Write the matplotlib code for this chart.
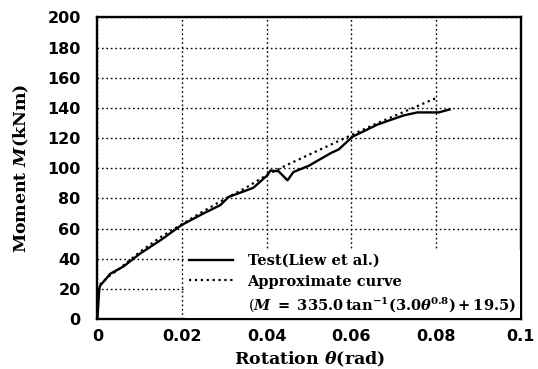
import matplotlib.pyplot as plt
import numpy as np

# test curve (Liew et al.)
theta_test = [0.0, 0.0004, 0.0006, 0.003, 0.0062, 0.0101, 0.015, 0.0199, 0.025,
              0.029, 0.031, 0.0368, 0.040, 0.0409, 0.0428, 0.0449, 0.0463,
              0.0499, 0.0551, 0.057, 0.0603, 0.0662, 0.0723, 0.0756, 0.0806, 0.0832]
M_test = [0.0, 18.0, 22.0, 30.0, 35.0, 43.5, 52.5, 62.4, 70.0,
          75.5, 81.0, 87.0, 95.0, 98.5, 98.0, 92.0, 97.5,
          101.6, 110.0, 112.5, 121.0, 129.0, 135.0, 137.0, 137.0, 139.0]

# approximate curve
theta_apx = [0.0, 0.0005, 0.001, 0.003, 0.005, 0.01, 0.015, 0.02, 0.025, 0.03, 0.035,
             0.04, 0.045, 0.05, 0.055, 0.06, 0.065, 0.07, 0.075, 0.08]
M_apx = [19.5, 22.5, 24.0, 29.0, 33.0, 44.5, 54.5, 63.0, 71.5, 79.5, 87.0,
         95.5, 102.5, 109.0, 115.5, 122.0, 128.5, 134.5, 140.5, 146.5]

xticks = [0, 0.02, 0.04, 0.06, 0.08, 0.1]
xticklabels = ['0', '0.02', '0.04', '0.06', '0.08', '0.1']
yticks = list(range(0, 201, 20))

plt.rcParams['mathtext.fontset'] = 'dejavuserif'

fig = plt.figure(figsize=(5.38, 3.69), dpi=100)
ax = fig.add_axes([0.181, 0.135, 0.787, 0.818])

ax.plot(theta_test, M_test, 'k-', lw=1.7, label='Test(Liew et al.)')
ax.plot(theta_apx, M_apx, 'k:', lw=1.6, label='Approximate curve')
ax.plot([], [], ' ', label=r'$(\mathbfit{M}\ \mathbf{=\ 335.0\,tan^{-1}(3.0}\mathbfit{\theta}^{\mathbf{0.8}}\mathbf{)+19.5)}$')

ax.set_xlim(0, 0.1)
ax.set_ylim(0, 200)
ax.set_xticks(xticks)
ax.set_xticklabels(xticklabels)
ax.set_yticks(yticks)
ax.grid(True, color='k', linestyle=(0, (1.2, 2.0)), linewidth=1.0)
ax.tick_params(axis='y', length=0, pad=12, labelsize=11.5)
ax.tick_params(axis='x', length=0, pad=7, labelsize=11.5)
for lab in ax.get_xticklabels() + ax.get_yticklabels():
    lab.set_fontweight('bold')
for sp in ax.spines.values():
    sp.set_linewidth(1.7)

ax.set_xlabel(r'Rotation $\mathbfit{\theta}$(rad)', family='DejaVu Serif',
              fontweight='bold', fontsize=12.5, labelpad=4)
ax.set_ylabel(r'Moment $\mathbfit{M}$(kNm)', family='DejaVu Serif',
              fontweight='bold', fontsize=12.5, labelpad=12)

leg = ax.legend(loc='lower right', bbox_to_anchor=(1.0, 0.0),
                prop={'family': 'DejaVu Serif', 'weight': 'bold', 'size': 10.5},
                frameon=True, fancybox=False, edgecolor='none', framealpha=1,
                borderaxespad=0.05, borderpad=0.3, handlelength=3.0,
                handletextpad=1.0, labelspacing=0.45)

fig.savefig('out.png', dpi=100)
